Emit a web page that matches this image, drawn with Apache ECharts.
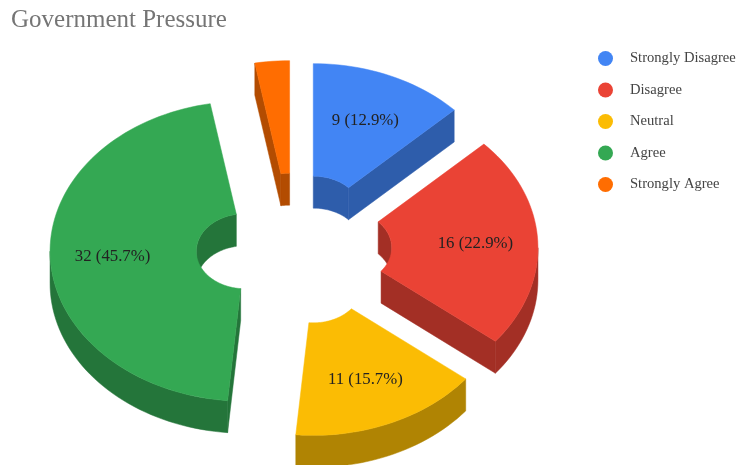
<!DOCTYPE html>
<html>
<head>
<meta charset="utf-8">
<style>html,body{margin:0;padding:0;background:#fff}#c{width:738px;height:465px}</style>
<script src="https://cdn.jsdelivr.net/npm/echarts@6/dist/echarts.min.js"></script>
</head>
<body>
<div id="c"></div>
<script>
const categories = ['Strongly Disagree', 'Disagree', 'Neutral', 'Agree', 'Strongly Agree'];
const values = [9, 16, 11, 32, 2];
const topColors = ['#4285F4', '#EA4335', '#FBBC04', '#34A853', '#FF6D01'];
const sideColors = ['#2E5DAB', '#A32F25', '#B08403', '#24753A', '#B34C01'];

const total = values.reduce((a, b) => a + b, 0);
const CX = 294, CY = 249.5, RX = 195, RY = 150, HOLE = 0.25, DEPTH = 32;
const EX = 49, EY = 39, LABEL_R = 0.68, MIN_LABEL_PCT = 5;
const rad = d => d * Math.PI / 180;

function pt(c, ratio, deg, dy) {
  return [c[0] + RX * ratio * Math.sin(rad(deg)), c[1] - RY * ratio * Math.cos(rad(deg)) + (dy || 0)];
}
function arc(c, ratio, a, b, dy) {
  const n = Math.max(2, Math.ceil(Math.abs(b - a) / 2));
  const out = [];
  for (let i = 0; i <= n; i++) out.push(pt(c, ratio, a + (b - a) * i / n, dy));
  return out;
}
function wall(c, ratio, a, b, color) {
  if (b <= a) return null;
  return { type: 'polygon', shape: { points: arc(c, ratio, a, b, 0).concat(arc(c, ratio, b, a, DEPTH)) },
    style: { fill: color, stroke: color, lineWidth: 0.5 } };
}
function face(c, deg, color) {
  return { type: 'polygon', shape: { points: [pt(c, HOLE, deg), pt(c, 1, deg), pt(c, 1, deg, DEPTH), pt(c, HOLE, deg, DEPTH)] },
    style: { fill: color, stroke: color, lineWidth: 0.5 } };
}

function sliceRenderer(idx) {
  return function () {
    const before = values.slice(0, idx).reduce((a, b) => a + b, 0);
    const a0 = before / total * 360, a1 = (before + values[idx]) / total * 360, mid = (a0 + a1) / 2;
    const c = [CX + EX * Math.sin(rad(mid)), CY - EY * Math.cos(rad(mid))];
    const side = sideColors[idx], top = topColors[idx];
    const kids = [];
    // far side of the hole
    [[a0, Math.min(a1, 90)], [Math.max(a0, 270), a1]].forEach(r => {
      const w = wall(c, HOLE, r[0], r[1], side);
      if (w) kids.push(w);
    });
    // radial cuts that face the viewer
    if (Math.sin(rad(a0)) < -0.001) kids.push(face(c, a0, side));
    if (Math.sin(rad(a1)) > 0.001) kids.push(face(c, a1, side));
    // near outer rim
    const o = wall(c, 1, Math.max(a0, 90), Math.min(a1, 270), side);
    if (o) kids.push(o);
    // top surface
    kids.push({ type: 'polygon', shape: { points: arc(c, 1, a0, a1).concat(arc(c, HOLE, a1, a0)) },
      style: { fill: top, stroke: top, lineWidth: 0.5 } });
    const pct = values[idx] / total * 100;
    if (pct >= MIN_LABEL_PCT) {
      const p = pt(c, LABEL_R, mid);
      kids.push({ type: 'text', style: { x: p[0], y: p[1] + 0.5, text: values[idx] + ' (' + pct.toFixed(1) + '%)',
        fill: '#222', fontSize: 16.8, fontFamily: 'Liberation Serif', align: 'center', verticalAlign: 'middle' } });
    }
    return { type: 'group', children: kids };
  };
}

const chart = echarts.init(document.getElementById('c'), null, { renderer: 'canvas' });
chart.setOption({
  animation: false,
  backgroundColor: '#fff',
  color: topColors,
  title: { text: 'Government Pressure', left: 6, top: 3,
    textStyle: { fontFamily: 'Liberation Serif', fontWeight: 'normal', fontSize: 25, color: '#757575' } },
  legend: { orient: 'vertical', left: 593, top: 46, itemWidth: 15, itemHeight: 15, itemGap: 16.5, icon: 'circle',
    selectedMode: false, data: categories,
    textStyle: { fontFamily: 'Liberation Serif', fontSize: 14.6, color: '#444', padding: [0, 0, 0, 12] } },
  series: categories.map((name, i) => ({
    type: 'custom', name, coordinateSystem: 'none', silent: true,
    itemStyle: { color: topColors[i] },
    data: [values[i]],
    renderItem: sliceRenderer(i)
  }))
});
</script>
</body>
</html>
